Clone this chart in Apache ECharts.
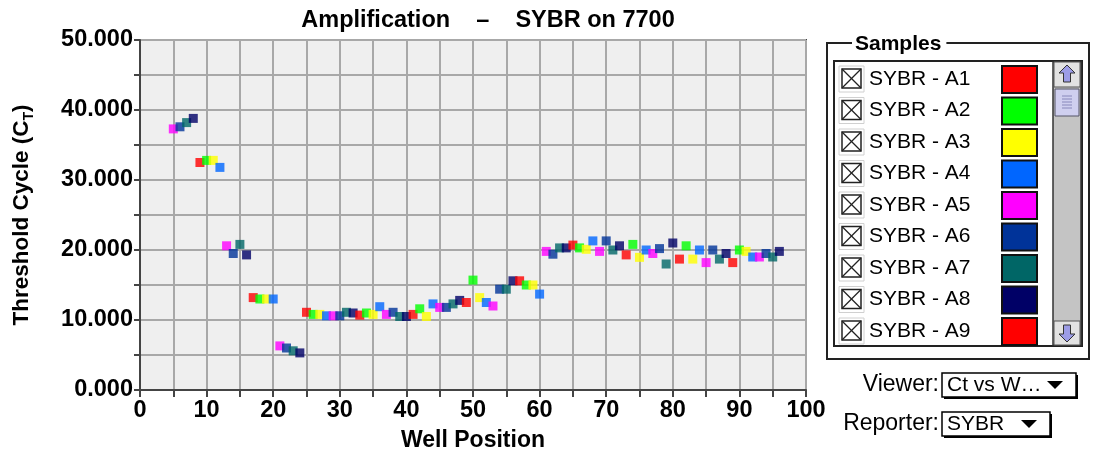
<!DOCTYPE html>
<html><head><meta charset="utf-8">
<script src="https://cdn.jsdelivr.net/npm/echarts@6/dist/echarts.min.js"></script>
<style>html,body{margin:0;padding:0;background:#fff}#c{width:1093px;height:453px}</style>
</head><body><div id="c"></div>
<script>
// ---- data ----
const wells = [5,6,7,8,9,10,11,12,13,14,15,16,17,18,19,20,21,22,23,24,25,26,27,28,29,30,
  31,32,33,34,35,36,37,38,39,40,41,42,43,44,45,46,47,48,49,50,51,52,53,54,55,56,57,58,59,60,
  61,62,63,64,65,66,67,68,69,70,71,72,73,74,75,76,77,78,79,80,81,82,83,84,85,86,87,88,89,90,
  91,92,93,94,95,96];
const ctValues = [37.3,37.6,38.2,38.8,32.5,32.8,32.8,31.8,20.6,19.5,20.8,19.3,13.2,13.0,13.0,13.0,
  6.3,6.0,5.6,5.3,11.1,10.8,10.8,10.6,10.6,10.6,11.1,11.0,10.7,11.0,10.8,11.9,10.8,11.1,10.5,10.5,
  10.8,11.6,10.5,12.3,11.8,11.8,12.3,12.8,12.5,15.7,13.2,12.5,12.0,14.4,14.4,15.6,15.6,15.0,15.0,13.7,
  19.8,19.4,20.3,20.3,20.7,20.3,20.1,21.3,19.8,21.3,20.0,20.6,19.3,20.8,18.95,20.0,19.5,20.2,18.0,21.0,
  18.7,20.6,18.7,20.0,18.2,20.0,18.7,19.5,18.2,20.0,19.8,19.0,19.0,19.5,19.0,19.8];
const wellColors = ['#ff0000','#00ff00','#ffff00','#0066ff','#ff00ff','#003399','#006666','#000066'];
const sampleNames = ['SYBR - A1','SYBR - A2','SYBR - A3','SYBR - A4','SYBR - A5','SYBR - A6','SYBR - A7','SYBR - A8','SYBR - A9'];
const xTickLabels = ['0','10','20','30','40','50','60','70','80','90','100'];
const yTickLabels = ['0.000','10.000','20.000','30.000','40.000','50.000'];
const titleText = 'Amplification    \u2013    SYBR on 7700';
const viewerValue = 'Ct vs W\u2026';
const reporterValue = 'SYBR';

// ---- chart ----
const chart = echarts.init(document.getElementById('c'), null, {renderer:'canvas'});
const FONT = '"Liberation Sans", Arial, Helvetica, sans-serif';

const graphics = [];
// Y axis name (rotated, with subscript)
graphics.push({
  type:'text', x:22, y:215, rotation:Math.PI/2,
  style:{
    text:'{a|Threshold Cycle (C}{b|T}{a|)}',
    align:'center', verticalAlign:'middle',
    rich:{
      a:{fontFamily:FONT, fontWeight:'bold', fontSize:22.5, fill:'#000', lineHeight:26, verticalAlign:'middle'},
      b:{fontFamily:FONT, fontWeight:'bold', fontSize:14, fill:'#000', padding:[14,0,0,0], verticalAlign:'middle'}
    }
  }
});
// Samples frame
graphics.push({type:'rect', shape:{x:827,y:43,width:262,height:316}, style:{fill:'none', stroke:'#222', lineWidth:2}});
graphics.push({type:'text', x:852, y:44, style:{text:'Samples', fontFamily:FONT, fontWeight:'bold', fontSize:21,
  fill:'#000', backgroundColor:'#fff', padding:[0,5,0,3], verticalAlign:'middle', align:'left'}});
// list box
graphics.push({type:'rect', shape:{x:834,y:61,width:248,height:285}, style:{fill:'#fff', stroke:'#222', lineWidth:2}});
sampleNames.forEach((name,i)=>{
  const cy = 79 + 31.5*i;
  graphics.push({type:'rect', shape:{x:839,y:cy-13,width:25,height:26}, style:{fill:'#fff', stroke:'#d0d0d0', lineWidth:1}});
  graphics.push({type:'rect', shape:{x:842,y:cy-10,width:19,height:19}, style:{fill:'#fff', stroke:'#222', lineWidth:1.5}});
  graphics.push({type:'line', shape:{x1:842,y1:cy-10,x2:861,y2:cy+9}, style:{stroke:'#222', lineWidth:1.2}});
  graphics.push({type:'line', shape:{x1:861,y1:cy-10,x2:842,y2:cy+9}, style:{stroke:'#222', lineWidth:1.2}});
  graphics.push({type:'text', x:869, y:cy, style:{text:name, fontFamily:FONT, fontSize:21, fill:'#000', verticalAlign:'middle'}});
  graphics.push({type:'rect', shape:{x:1002,y:cy-13,width:35,height:27}, style:{fill:wellColors[i%8], stroke:'#111', lineWidth:2}});
});
// scrollbar
graphics.push({type:'rect', shape:{x:1053,y:62,width:28,height:283}, style:{fill:'#c4c4c4', stroke:'#333', lineWidth:1.5}});
graphics.push({type:'rect', shape:{x:1054,y:62,width:26,height:25}, style:{fill:'#e2e2e2', stroke:'#555', lineWidth:1}});
graphics.push({type:'polygon', shape:{points:[[1067,65],[1059,73],[1063.5,73],[1063.5,82],[1070.5,82],[1070.5,73],[1075,73]]},
  style:{fill:'#9c9ce6', stroke:'#333', lineWidth:1}});
graphics.push({type:'rect', shape:{x:1055,y:89,width:24,height:27}, style:{fill:'#cfcfef', stroke:'#556', lineWidth:1}});
[96,99,102,105,108].forEach(yy=>graphics.push({type:'line', shape:{x1:1062,y1:yy,x2:1072,y2:yy}, style:{stroke:'#8888bb', lineWidth:1}}));
graphics.push({type:'rect', shape:{x:1054,y:321,width:26,height:24}, style:{fill:'#e2e2e2', stroke:'#555', lineWidth:1}});
graphics.push({type:'polygon', shape:{points:[[1067,342],[1059,334],[1063.5,334],[1063.5,325],[1070.5,325],[1070.5,334],[1075,334]]},
  style:{fill:'#9c9ce6', stroke:'#333', lineWidth:1}});
// dropdowns
function dropdown(label, value, y, w){
  graphics.push({type:'text', x:939, y:y+12, style:{text:label, fontFamily:FONT, fontSize:23, fill:'#000', align:'right', verticalAlign:'middle'}});
  graphics.push({type:'rect', shape:{x:944,y:y+2,width:w,height:24}, style:{fill:'#000'}});
  graphics.push({type:'rect', shape:{x:942,y:y,width:w,height:24}, style:{fill:'#fff', stroke:'#000', lineWidth:1.5}});
  graphics.push({type:'text', x:947, y:y+12, style:{text:value, fontFamily:FONT, fontSize:21, fill:'#000', verticalAlign:'middle'}});
  const tx = 942 + w - 21;
  graphics.push({type:'polygon', shape:{points:[[tx-8,y+8],[tx+8,y+8],[tx,y+16]]}, style:{fill:'#000'}});
}
dropdown('Viewer:', viewerValue, 373, 134);
dropdown('Reporter:', reporterValue, 412, 108);

const option = {
  backgroundColor:'#fff',
  animation:false,
  title:{text:titleText, left:483, top:4, textAlign:'center',
    textStyle:{fontFamily:FONT, fontWeight:'bold', fontSize:23.5, color:'#000'}},
  grid:{left:140, top:40, width:666, height:350, outerBoundsMode:'none', containLabel:false,
    show:true, backgroundColor:'#efefef', borderColor:'#444', borderWidth:2},
  xAxis:{type:'value', min:0, max:100, interval:5,
    name:'Well Position', nameLocation:'middle', nameGap:39,
    nameTextStyle:{fontFamily:FONT, fontWeight:'bold', fontSize:23, color:'#000'},
    axisLine:{show:true, lineStyle:{color:'#444', width:2}},
    axisTick:{show:true, length:7, lineStyle:{color:'#444', width:2}},
    axisLabel:{margin:9, fontFamily:FONT, fontWeight:'bold', fontSize:23.5, color:'#000',
      formatter:v=> (v%10===0 ? xTickLabels[v/10] : '')},
    splitLine:{show:true, lineStyle:{color:'#a8a8a8', width:2}}
  },
  yAxis:{type:'value', min:0, max:50, interval:5,
    axisLine:{show:true, lineStyle:{color:'#444', width:2}},
    axisTick:{show:true, length:6, lineStyle:{color:'#444', width:2}},
    axisLabel:{margin:7, fontFamily:FONT, fontWeight:'bold', fontSize:23.5, color:'#000',
      formatter:v=> (v%10===0 ? yTickLabels[v/10] : '')},
    splitLine:{show:true, lineStyle:{color:'#a8a8a8', width:2}}
  },
  series:[{
    type:'scatter', symbol:'rect', symbolSize:9,
    data: wells.map((w,i)=>({value:[w, ctValues[i]], itemStyle:{color: wellColors[(w-1)%8]}}))
  }],
  graphic: graphics
};
chart.setOption(option);
</script>
</body></html>
